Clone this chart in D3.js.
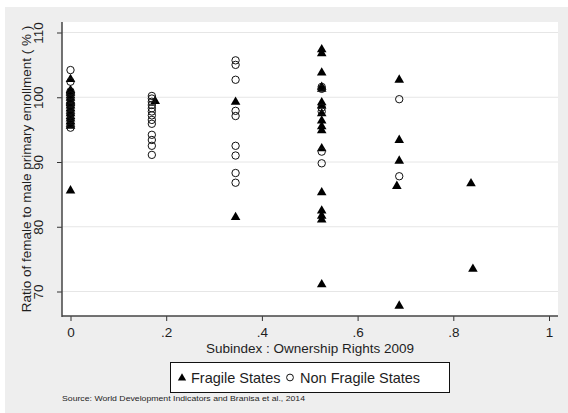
<!DOCTYPE html>
<html><head><meta charset="utf-8">
<script src="https://cdn.jsdelivr.net/npm/d3@7"></script>
<style>body{margin:0;background:#fff}svg{display:block;font-family:"Liberation Sans",Arial,sans-serif}</style>
</head><body><svg id="c" width="568" height="413"></svg>
<script>
// Fragile States (triangles): [x, y]
const fragileX = [0,0,0,0,0,0,0,0,0,0,0,0,0,0,0,0,0,0,0,
  0.177,
  0.345,0.345,
  0.525,0.525,0.525,0.525,0.525,0.525,0.525,0.525,0.525,0.525,0.525,0.525,0.525,0.525,0.525,0.525,0.525,
  0.687,0.687,0.687,0.682,0.687,
  0.837,0.841];
const fragileY = [102.9,101.2,100.8,100.4,100.0,99.6,99.2,98.8,98.4,98.0,97.6,97.2,96.8,96.4,96.0,95.7,101.0,99.4,85.7,
  99.5,
  99.4,81.6,
  107.5,106.9,103.9,101.7,101.4,99.3,98.8,97.6,96.5,95.6,95.0,92.2,85.4,82.6,81.8,81.2,71.2,
  102.8,93.5,90.3,86.4,67.9,
  86.8,73.6];
// Non Fragile States (hollow circles)
const nonFragileX = [0,0,0,0,0,0,0,0,0,0,0,0,
  0.17,0.17,0.17,0.17,0.17,0.17,0.17,0.17,0.17,0.17,0.17,0.17,0.17,
  0.345,0.345,0.345,0.345,0.345,0.345,0.345,0.345,0.345,
  0.525,0.525,0.525,0.525,0.525,0.525,
  0.687,0.687];
const nonFragileY = [104.2,102.4,100.9,100.3,99.7,99.1,98.5,97.9,97.3,96.6,95.9,95.3,
  100.2,99.8,99.3,98.8,98.3,97.8,97.2,96.5,95.9,94.2,93.4,92.5,91.1,
  105.7,105.0,102.7,97.9,97.1,92.5,91.0,88.3,86.8,
  101.6,101.3,98.4,97.8,91.6,89.8,
  99.7,87.8];
const xTicks = [0,0.2,0.4,0.6,0.8,1];
const xTickLabels = ["0",".2",".4",".6",".8","1"];
const yTicks = [70,80,90,100,110];
const yTickLabels = ["70","80","90","100","110"];

const svg = d3.select("#c");
const txt = "#1e1e1e";
svg.append("rect").attr("x",5).attr("y",7).attr("width",563).attr("height",406).attr("fill","#eeeeee");
const plot = {l:62,r:558,t:22,b:316};
svg.append("rect").attr("x",plot.l).attr("y",plot.t).attr("width",plot.r-plot.l).attr("height",plot.b-plot.t).attr("fill","#fff");

const x = d3.scaleLinear().domain([0,1]).range([70.5,549]);
const y = d3.scaleLinear().domain([70,110]).range([291.5,32.5]);

// gridlines
svg.append("g").selectAll("line").data(yTicks).join("line")
  .attr("x1",plot.l).attr("x2",plot.r).attr("y1",d=>y(d)).attr("y2",d=>y(d))
  .attr("stroke","#e6e6e6").attr("stroke-width",1);

// axes
const yAxis = svg.append("g").attr("transform",`translate(${plot.l},0)`)
  .call(d3.axisLeft(y).tickValues(yTicks).tickFormat((d,i)=>yTickLabels[i]).tickSize(5).tickPadding(4));
yAxis.select(".domain").remove();
yAxis.selectAll(".tick line").attr("stroke","#333");
yAxis.selectAll(".tick text").attr("transform","rotate(-90)").attr("x",0).attr("y",-19)
  .attr("text-anchor","middle").attr("dy","0").style("font-size","13.5px").attr("fill",txt)
  .attr("font-family","Liberation Sans, Arial, sans-serif");
svg.append("line").attr("x1",plot.l).attr("x2",plot.l).attr("y1",plot.t).attr("y2",plot.b+1).attr("stroke","#444").attr("stroke-width",1.5);

const xAxis = svg.append("g").attr("transform",`translate(0,${plot.b})`)
  .call(d3.axisBottom(x).tickValues(xTicks).tickFormat((d,i)=>xTickLabels[i]).tickSize(5).tickPadding(6));
xAxis.select(".domain").remove();
xAxis.selectAll(".tick line").attr("stroke","#333");
xAxis.selectAll(".tick text").style("font-size","13.5px").attr("fill",txt)
  .attr("font-family","Liberation Sans, Arial, sans-serif");
svg.append("line").attr("x1",plot.l).attr("x2",plot.r).attr("y1",plot.b).attr("y2",plot.b).attr("stroke","#444").attr("stroke-width",1.5);

// axis titles
svg.append("text").attr("transform","translate(31,169) rotate(-90)").attr("text-anchor","middle")
  .style("font-size","13.5px").attr("fill",txt).text("Ratio of female to male primary enrollment ( % )");
svg.append("text").attr("x",310).attr("y",353).attr("text-anchor","middle")
  .style("font-size","13.5px").attr("fill",txt).text("Subindex : Ownership Rights 2009");

// marks
const tri = d3.symbol().type(d3.symbolTriangle).size(40);
const fragile = fragileX.map((v,i)=>[v,fragileY[i]]);
const nonFragile = nonFragileX.map((v,i)=>[v,nonFragileY[i]]);
svg.append("g").selectAll("path").data(fragile).join("path")
  .attr("d",tri).attr("transform",d=>`translate(${x(d[0])},${y(d[1])+0.8})`).attr("fill","#000");
svg.append("g").selectAll("circle").data(nonFragile).join("circle")
  .attr("cx",d=>x(d[0])).attr("cy",d=>y(d[1])).attr("r",3.7)
  .attr("fill","none").attr("stroke","#111").attr("stroke-width",1);

// legend
svg.append("rect").attr("x",170.5).attr("y",362.5).attr("width",279).attr("height",30).attr("fill","#fff").attr("stroke","#111").attr("stroke-width",1);
svg.append("path").attr("d",d3.symbol().type(d3.symbolTriangle).size(30)).attr("transform","translate(182,378)").attr("fill","#000");
svg.append("text").attr("x",191).attr("y",383).style("font-size","14.5px").attr("fill",txt).text("Fragile States");
svg.append("circle").attr("cx",290).attr("cy",377.5).attr("r",3.4).attr("fill","none").attr("stroke","#111");
svg.append("text").attr("x",300).attr("y",383).style("font-size","14.5px").attr("fill",txt).text("Non Fragile States");

// source
svg.append("text").attr("x",62).attr("y",401).style("font-size","7.5px").attr("fill",txt)
  .attr("textLength",243).attr("lengthAdjust","spacingAndGlyphs")
  .text("Source: World Development Indicators and Branisa et al., 2014");
</script></body></html>
